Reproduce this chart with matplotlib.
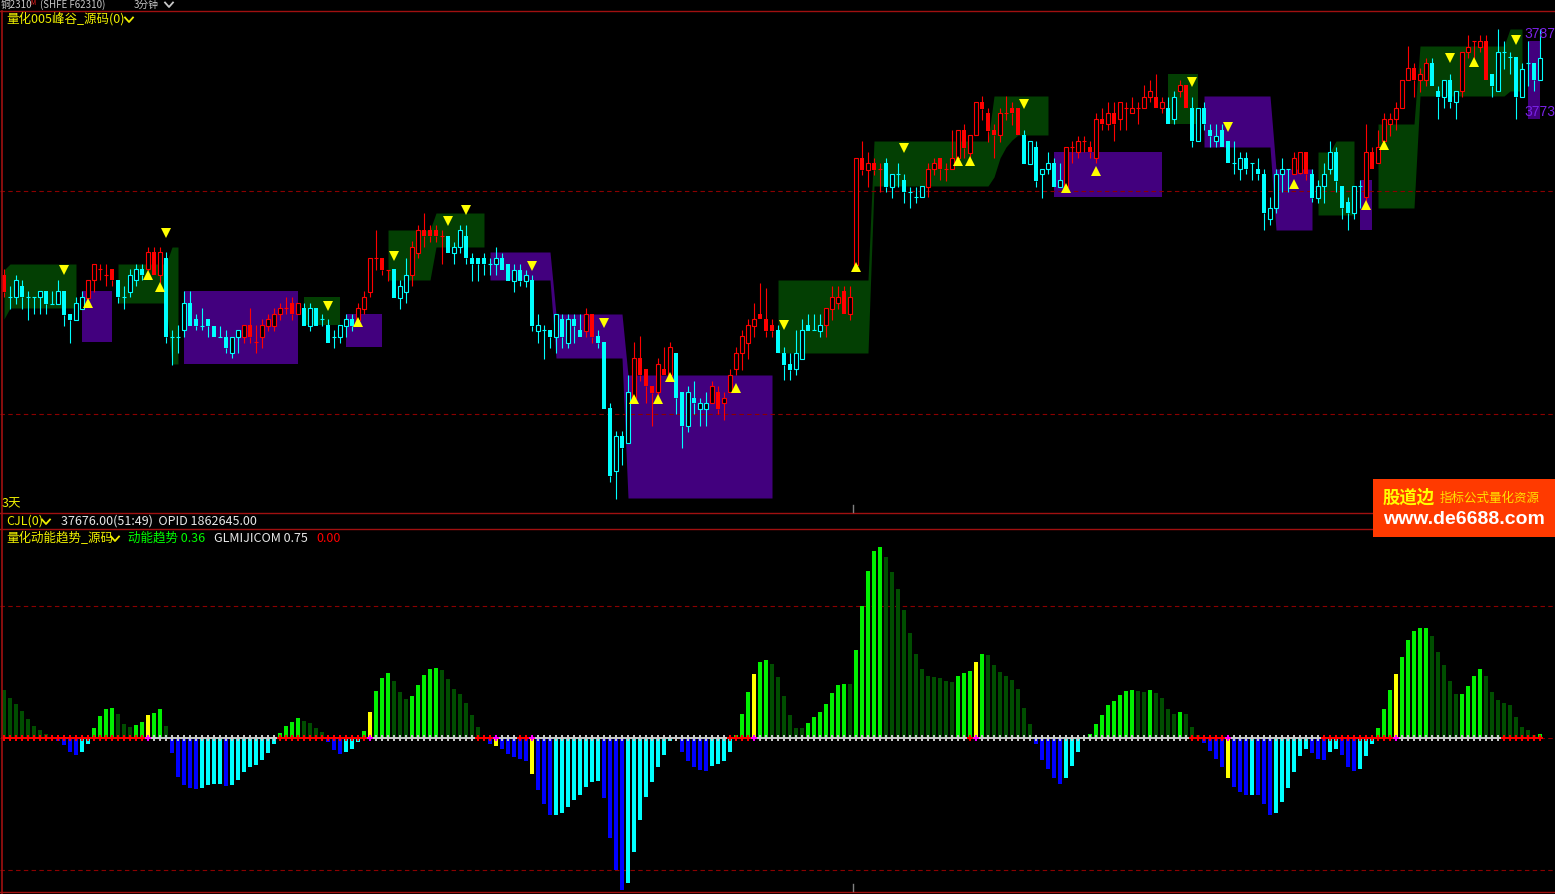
import numpy as np
import matplotlib.pyplot as plt
from matplotlib.patches import Rectangle

plt.rcParams['font.family'] = ['Noto Sans CJK SC', 'DejaVu Sans']

# K线数据 (相对价格刻度)
open_ = [725, 703, 703, 714, 703, 703, 703, 709, 696, 696,
         709, 686, 680, 691, 702, 720, 731, 725, 731, 720,
         703, 708, 720, 731, 731, 748, 725, 742, 663, 663,
         670, 697, 681, 674, 681, 674, 663, 663, 647, 663,
         663, 675, 658, 663, 674, 674, 686, 692, 697, 686,
         692, 674, 692, 681, 675, 663, 663, 674, 681, 680,
         691, 708, 742, 742, 730, 731, 702, 708, 725, 747,
         770, 770, 770, 764, 764, 747, 753, 764, 742, 742,
         742, 736, 736, 742, 736, 719, 730, 719, 720, 669,
         670, 670, 663, 681, 657, 681, 670, 669, 686, 664,
         658, 592, 529, 564, 557, 602, 642, 631, 614, 608,
         631, 625, 647, 608, 574, 602, 591, 591, 597, 608,
         597, 608, 631, 647, 657, 674, 686, 681, 675, 670,
         647, 636, 631, 641, 675, 670, 669, 675, 691, 697,
         709, 686, 735, 842, 830, 837, 831, 837, 813, 826,
         820, 808, 803, 803, 813, 831, 842, 831, 831, 842,
         870, 847, 865, 898, 887, 870, 865, 887, 892, 892,
         865, 836, 853, 826, 831, 837, 813, 813, 853, 848,
         859, 853, 842, 881, 876, 887, 881, 892, 887, 892,
         892, 903, 903, 892, 892, 881, 909, 915, 892, 859,
         892, 870, 859, 870, 859, 837, 831, 842, 837, 831,
         826, 781, 792, 826, 831, 826, 827, 848, 826, 802,
         814, 831, 848, 814, 798, 787, 814, 803, 848, 837,
         859, 876, 881, 892, 920, 932, 920, 920, 937, 909,
         903, 920, 898, 909, 948, 959, 953, 959, 926, 909,
         948, 943, 943, 903, 937, 937, 920]
high = [731, 714, 725, 720, 709, 703, 709, 709, 709, 720,
        709, 686, 703, 709, 720, 736, 736, 736, 731, 720,
        714, 731, 736, 736, 753, 753, 753, 748, 670, 675,
        709, 709, 686, 692, 681, 674, 674, 670, 663, 670,
        675, 692, 675, 681, 686, 692, 697, 703, 703, 697,
        697, 697, 692, 686, 681, 670, 675, 686, 686, 697,
        709, 742, 770, 742, 730, 731, 720, 742, 759, 775,
        787, 775, 775, 770, 764, 758, 775, 775, 747, 742,
        747, 742, 753, 747, 736, 736, 736, 730, 725, 686,
        675, 670, 686, 686, 686, 686, 686, 692, 686, 670,
        658, 597, 569, 569, 625, 658, 664, 631, 614, 642,
        653, 658, 647, 608, 614, 619, 602, 608, 619, 614,
        608, 631, 653, 670, 681, 697, 717, 712, 681, 675,
        653, 647, 670, 681, 686, 686, 686, 692, 714, 714,
        714, 714, 842, 859, 848, 842, 837, 842, 826, 837,
        826, 813, 813, 814, 837, 842, 842, 837, 870, 870,
        876, 865, 898, 904, 892, 876, 892, 904, 898, 892,
        870, 859, 859, 831, 848, 842, 837, 853, 859, 864,
        864, 859, 887, 892, 898, 898, 898, 898, 903, 898,
        915, 920, 926, 903, 903, 909, 920, 915, 903, 892,
        898, 876, 876, 876, 859, 859, 848, 848, 837, 842,
        831, 803, 831, 842, 831, 848, 848, 848, 831, 820,
        837, 859, 853, 814, 803, 814, 820, 876, 853, 870,
        887, 887, 898, 920, 954, 937, 932, 942, 942, 914,
        920, 926, 909, 948, 965, 959, 965, 965, 926, 971,
        959, 948, 943, 937, 959, 937, 971]
low = [703, 691, 696, 691, 680, 686, 686, 686, 696, 696,
       674, 657, 680, 691, 702, 708, 720, 714, 714, 697,
       691, 703, 714, 720, 725, 725, 717, 657, 635, 647,
       663, 674, 670, 670, 663, 663, 663, 647, 642, 647,
       657, 657, 647, 652, 669, 669, 680, 686, 680, 686,
       674, 669, 674, 674, 657, 652, 657, 663, 669, 674,
       686, 703, 730, 725, 719, 702, 691, 697, 714, 742,
       753, 758, 758, 736, 747, 736, 747, 736, 719, 719,
       725, 725, 725, 730, 719, 708, 714, 713, 669, 657,
       641, 652, 647, 652, 652, 657, 663, 663, 657, 652,
       591, 518, 501, 535, 557, 602, 619, 597, 574, 602,
       625, 625, 586, 552, 568, 586, 574, 574, 597, 586,
       580, 608, 625, 630, 641, 663, 681, 663, 663, 647,
       620, 620, 625, 641, 669, 670, 663, 663, 680, 691,
       686, 680, 735, 825, 813, 825, 808, 808, 802, 813,
       797, 792, 797, 803, 803, 825, 820, 819, 831, 842,
       842, 842, 865, 880, 858, 842, 858, 880, 875, 865,
       836, 836, 813, 802, 826, 813, 813, 808, 837, 842,
       848, 842, 837, 870, 870, 859, 870, 870, 887, 876,
       892, 898, 892, 887, 876, 876, 903, 892, 853, 859,
       870, 853, 853, 853, 837, 826, 820, 826, 820, 820,
       770, 775, 787, 808, 808, 826, 826, 820, 798, 797,
       797, 826, 808, 781, 770, 781, 792, 798, 831, 837,
       853, 864, 870, 892, 920, 903, 908, 914, 914, 881,
       892, 892, 881, 903, 942, 937, 948, 920, 903, 909,
       931, 926, 881, 903, 914, 909, 920]
close = [708, 703, 720, 703, 703, 703, 709, 696, 696, 709,
         685, 680, 697, 703, 720, 736, 731, 725, 720, 703,
         703, 725, 731, 725, 748, 725, 748, 663, 663, 663,
         697, 674, 674, 674, 674, 663, 663, 652, 663, 670,
         675, 663, 658, 675, 681, 686, 692, 692, 686, 697,
         674, 692, 674, 681, 657, 663, 675, 681, 674, 692,
         703, 742, 742, 730, 730, 702, 714, 725, 753, 770,
         764, 764, 764, 764, 747, 753, 770, 742, 736, 736,
         736, 736, 742, 730, 719, 730, 719, 725, 674, 675,
         670, 663, 686, 663, 681, 674, 663, 686, 663, 657,
         591, 524, 564, 552, 608, 642, 625, 614, 607, 636,
         625, 653, 602, 574, 608, 597, 597, 597, 614, 591,
         602, 625, 647, 664, 675, 681, 681, 669, 669, 647,
         635, 630, 647, 670, 669, 670, 675, 692, 703, 703,
         686, 703, 842, 830, 837, 830, 831, 813, 826, 826,
         808, 808, 803, 814, 831, 837, 831, 831, 842, 870,
         852, 865, 898, 891, 869, 865, 887, 887, 887, 865,
         836, 859, 819, 831, 837, 813, 820, 853, 853, 859,
         859, 848, 881, 876, 887, 876, 898, 892, 892, 892,
         903, 909, 892, 898, 876, 903, 915, 892, 859, 892,
         876, 864, 864, 853, 837, 837, 842, 831, 837, 826,
         787, 792, 826, 831, 831, 842, 848, 826, 802, 814,
         826, 848, 819, 792, 787, 814, 814, 848, 831, 853,
         881, 881, 892, 920, 932, 920, 926, 937, 914, 903,
         920, 898, 909, 948, 953, 959, 959, 920, 914, 948,
         948, 943, 903, 931, 937, 920, 942]

# 趋势颜色 (r=红, c=青), 游程编码
trend_runs = [('r', 1), ('c', 13), ('r', 5), ('c', 5), ('r', 3), ('c', 13), ('r', 10),
              ('c', 9), ('r', 6), ('c', 3), ('r', 6), ('c', 23), ('r', 2), ('c', 6),
              ('r', 7), ('c', 6), ('r', 11), ('c', 8), ('r', 10), ('c', 7), ('r', 16),
              ('c', 7), ('r', 17), ('c', 2), ('r', 2), ('c', 17), ('r', 3), ('c', 9),
              ('r', 11), ('c', 5), ('r', 5), ('c', 9)]

# 峰谷区域: (起始K线, 结束K线, 上沿, 下沿, 颜色)
zones = [(0, 0, 730, 681, 'g'), (1, 12, 736, 692, 'g'), (13, 18, 709, 658, 'p'),
         (19, 27, 736, 697, 'g'), (28, 29, 753, 636, 'g'), (30, 49, 709, 636, 'p'),
         (50, 56, 703, 675, 'g'), (57, 63, 686, 653, 'p'), (64, 71, 770, 720, 'g'),
         (72, 80, 787, 753, 'g'), (81, 91, 748, 720, 'p'), (92, 103, 686, 642, 'p'),
         (104, 128, 625, 502, 'p'), (129, 144, 720, 647, 'g'), (145, 164, 859, 814, 'g'),
         (165, 165, 904, 823, 'g'), (166, 166, 904, 842, 'g'), (167, 167, 904, 853, 'g'),
         (168, 168, 904, 860, 'g'), (169, 174, 904, 865, 'g'), (175, 193, 848, 803, 'p'),
         (194, 199, 926, 876, 'g'), (200, 211, 904, 853, 'p'), (212, 218, 831, 770, 'p'),
         (219, 221, 848, 785, 'g'), (222, 225, 859, 785, 'g'), (226, 228, 820, 770, 'p'),
         (229, 235, 876, 792, 'g'), (236, 250, 954, 904, 'g'), (251, 253, 971, 909, 'g'),
         (254, 256, 959, 881, 'p')]

# 信号三角
tri_dn_bar = [10, 27, 54, 65, 74, 77, 88, 100, 130, 150, 170, 198, 204, 241, 252]
tri_dn_val = [730, 767, 694, 744, 779, 790, 734, 677, 675, 852, 896, 918, 873, 942, 960]
tri_up_bar = [14, 24, 26, 59, 105, 109, 111, 122, 142, 159, 161, 177, 182, 215, 227, 230, 245]
tri_up_val = [697, 725, 713, 678, 601, 601, 623, 612, 733, 839, 839, 812, 829, 816, 795, 855, 938]

# 动能趋势柱
hist_vals = [36.6, 30.5, 26, 20.6, 14.5, 9.2, 6.1, 3, -0.5, -2.3,
             -5.3, -10.7, -13, -10.7, -4.6, 7.6, 16.8, 22, 23, 18.3,
             10.7, 8.4, 9.9, 12.2, 17.6, 19, 22, 9.2, -11.5, -29.8,
             -35.9, -38.2, -38.9, -38.2, -35.9, -35.1, -35.1, -36.6, -35.9, -32,
             -26, -22.1, -20.6, -16.8, -11.5, -4.6, 3.8, 9.2, 12.2, 15.3,
             13, 11.5, 7.6, 4.6, -3, -9.2, -12.2, -10.7, -8.4, -3,
             5.3, 19.8, 35.9, 45.8, 49.6, 43.5, 35.1, 29.8, 32, 40.5,
             48.1, 52.7, 53.4, 51.9, 45, 37.4, 33.6, 26.7, 17.6, 8.4,
             0.5, -4.6, -6.1, -8.4, -12.2, -14.5, -16, -17.6, -27.5, -39.7,
             -50.4, -58.8, -58.8, -57.3, -52.7, -47.3, -43.5, -37.4, -33.6, -32.8,
             -45.8, -76.3, -100, -115.3, -109.9, -87, -62.6, -45, -33.6, -22.1,
             -13, -2.3, -0.3, -10.7, -17.6, -22.1, -24.4, -25.2, -21.4, -19.8,
             -17.6, -10.7, 2.3, 18.3, 35.1, 48.9, 58, 59.5, 56.5, 46.6,
             32, 17.6, 7.6, 7.6, 11.5, 16, 19.8, 26, 34.4, 40.5,
             41.2, 41.2, 67.2, 100, 126.7, 142, 145, 137.4, 126, 113,
             97, 80.2, 64.1, 52.7, 47.3, 46.6, 45.8, 43.5, 42.7, 47.3,
             49.6, 51.1, 58, 64.1, 63.4, 55.7, 50.4, 47.3, 44.3, 37.4,
             22.9, 10.7, -4.6, -16.8, -23.7, -30.5, -35.1, -30.5, -21.4, -10.7,
             -0.8, 3, 10.7, 17.6, 25.2, 28.2, 32.8, 35.9, 36.6, 35.9,
             35.1, 36.6, 34.4, 30.5, 22.1, 18.3, 19.8, 18.3, 8.4, 2.3,
             -3.8, -9.9, -16, -22.1, -30.5, -37.4, -41.2, -43.5, -43.5, -43.5,
             -50.4, -58.8, -57.3, -48.9, -38.2, -26, -13.7, -8.4, -11.5, -16,
             -16.8, -10.7, -8.4, -13, -22.1, -25.2, -23.7, -13.7, -4.6, 7.6,
             22.1, 36.6, 48.9, 61.8, 74.8, 81.7, 84, 84, 77.9, 65.6,
             55.7, 43.5, 33.6, 33.6, 39.7, 47.3, 52.7, 47.3, 35.1, 29,
             26.7, 25.2, 16, 8.4, 6.1, 2.3, 3]
hist_codes = ''.join(["DDDDDDDDBB", "BBBCCGGGGD", "DDGGYGGDBB", "BBBCCCCBCC", "CCCCCCGGGG",
                      "DDDDBBBCCC", "GYGGGDDDGG", "GGGDDDDDDD", "DBYBBBBBYB", "BBCCCCCCCC",
                      "BBBBCCCCCC", "CCCBBBBBCC", "CCGGGYGGDD", "DDDDGGGGGG", "GDGGGGGDDD",
                      "DDDDDDDDDG", "GGYGDDDDDD", "DDBBBBBCCC", "CGGGGGGGGD", "DGDDDDGDDD",
                      "BBBBYBBBCB", "BBCCCCCCBB", "BCCBBBCCCG", "GGYGGGGGDD", "DDDGGGGDDD",
                      "DDDDDDG"])
dot_runs = [('r', 24), ('m', 1), ('g', 21), ('r', 15), ('m', 1), ('g', 17), ('r', 3),
            ('m', 1), ('g', 3), ('r', 2), ('m', 1), ('g', 32), ('r', 4), ('m', 1),
            ('g', 35), ('r', 1), ('m', 1), ('g', 35), ('r', 6), ('m', 1), ('g', 15),
            ('r', 12), ('m', 1), ('g', 17), ('r', 7)]

W, H = 1555, 894
n = len(close)
x = np.arange(n)
o = np.array(open_, float)
c = np.array(close, float)
hi = np.array(high, float)
lo = np.array(low, float)

fig = plt.figure(figsize=(W / 100, H / 100), dpi=100, facecolor='black')
xlim = (-4 / 6, (W - 4) / 6)

# ---- 主图 ----
ax1 = fig.add_axes([0, (H - 512) / H, 1, 500 / H])
ax1.set_facecolor('black')
ax1.set_xlim(*xlim)
ax1.set_ylim(488, 988)
ax1.axis('off')

zone_top = np.full(n, np.nan)
zone_bot = np.full(n, np.nan)
zone_col = [''] * n
for a, b, t, btm, col in zones:
    zone_top[a:b + 1] = t
    zone_bot[a:b + 1] = btm
    for k in range(a, b + 1):
        zone_col[k] = col
zcolors = {'g': '#033f03', 'p': '#42007e'}
i = 0
while i < n:
    if zone_col[i] == '':
        i += 1
        continue
    j = i
    while j + 1 < n and zone_col[j + 1] == zone_col[i]:
        j += 1
    xs = x[i:j + 1]
    if len(xs) == 1:
        xs = np.array([x[i] - 0.1, x[i] + 0.1])
        tt = [zone_top[i]] * 2
        bb = [zone_bot[i]] * 2
    else:
        tt = zone_top[i:j + 1]
        bb = zone_bot[i:j + 1]
    ax1.fill_between(xs, bb, tt, color=zcolors[zone_col[i]], lw=0, zorder=1)
    i = j + 1

for yv in (809, 586):
    ax1.axhline(yv, color='#8b0000', lw=0.8, ls=(0, (4, 3)), zorder=1.5)

trend = ''.join(t * k for t, k in trend_runs)
cols = np.array(['#ff0000' if t == 'r' else '#00ffff' for t in trend])
body_lo = np.minimum(o, c)
body_hi = np.maximum(o, c)
ax1.vlines(x, lo, body_lo, colors=cols, lw=0.8, zorder=3)
ax1.vlines(x, body_hi, hi, colors=cols, lw=0.8, zorder=3)
down = c < o
up = c > o
flat = c == o
ax1.bar(x[down], (o - c)[down], bottom=c[down], width=0.8, color=cols[down], lw=0, zorder=4)
ax1.bar(x[up], (c - o)[up], bottom=o[up], width=0.68, facecolor='black',
        edgecolor=cols[up], lw=0.8, zorder=4)
ax1.hlines(o[flat], x[flat] - 0.4, x[flat] + 0.4, colors=cols[flat], lw=0.8, zorder=4)

ax1.plot(tri_dn_bar, tri_dn_val, 'v', color='#ffff00', ms=6.5, mew=0, zorder=5)
ax1.plot(tri_up_bar, tri_up_val, '^', color='#ffff00', ms=6.5, mew=0, zorder=5)

# ---- 副图 ----
ax2 = fig.add_axes([0, 2 / H, 1, 363 / H])
ax2.set_facecolor('black')
ax2.set_xlim(*xlim)
ax2.set_ylim(-117.1, 158.9)
ax2.axis('off')
hmap = {'G': '#00f000', 'D': '#004d00', 'B': '#0000ff', 'C': '#00ffff', 'Y': '#ffff00'}
ax2.bar(x, hist_vals, width=0.82, color=[hmap[k] for k in hist_codes], lw=0, zorder=2)
for yv in (100, -100, 0):
    ax2.axhline(yv, color='#8b0000', lw=0.8, ls=(0, (4, 3)), zorder=1)
dots = ''.join(t * k for t, k in dot_runs)
dmap = {'r': '#ff0000', 'g': '#c8c8c8', 'm': '#ff00ff'}
ax2.scatter(x, np.zeros(n), marker='P', s=14, c=[dmap[k] for k in dots], lw=0, zorder=3)

# ---- 边框与文字 ----
ov = fig.add_axes([0, 0, 1, 1])
ov.set_xlim(0, W)
ov.set_ylim(H, 0)
ov.axis('off')
ov.patch.set_alpha(0)
line_c = '#a01010'
for yy in (11, 512.5, 528.5, 892):
    ov.plot([0, W], [yy, yy], color=line_c, lw=1, zorder=2)
ov.plot([1.5, 1.5], [11, H], color=line_c, lw=1.2, zorder=2)
for y0, y1 in ((505, 512), (884, 891)):
    ov.plot([853, 853], [y0, y1], color='#808080', lw=1, zorder=2)


def chevron(x0, y0, color):
    ov.plot([x0, x0 + 4, x0 + 8], [y0 - 2.5, y0 + 2, y0 - 2.5], color=color, lw=1.3, zorder=3)


yellow = '#f0f000'
fs = 9
gray = '#c8c8c8'
ov.text(1, 5, '铜2310', color=gray, fontsize=7, va='center', ha='left')
ov.text(30, 3, 'M', color='#ff2020', fontsize=4.5, va='center', ha='left')
ov.text(40, 5, '(SHFE F62310)', color=gray, fontsize=7, va='center', ha='left')
ov.text(134, 5, '3分钟', color=gray, fontsize=7, va='center', ha='left')
chevron(165, 5, gray)

ov.text(6, 19, '量化005峰谷_源码(0)', color=yellow, fontsize=fs, va='center', ha='left')
chevron(125, 20, yellow)

ov.text(1555, 34, '3787', color='#7b22e8', fontsize=10, va='center', ha='right',
        family='Liberation Sans')
ov.text(1555, 112, '3773', color='#7b22e8', fontsize=10, va='center', ha='right',
        family='Liberation Sans')

ov.text(2, 504, '3天', color=yellow, fontsize=fs, va='center', ha='left')
ov.text(6, 521, 'CJL(0)', color=yellow, fontsize=fs, va='center', ha='left')
chevron(42, 522, yellow)
ov.text(61, 521, '37676.00(51:49)  OPID 1862645.00', color='#e8e8e8', fontsize=fs,
        va='center', ha='left')

ov.text(6, 538, '量化动能趋势_源码', color=yellow, fontsize=fs, va='center', ha='left')
chevron(111, 539, yellow)
ov.text(128, 538, '动能趋势 0.36', color='#00ff00', fontsize=fs, va='center', ha='left')
ov.text(214, 538, 'GLMIJICOM 0.75', color='#e8e8e8', fontsize=fs, va='center', ha='left')
ov.text(316, 538, '0.00', color='#ff0000', fontsize=fs, va='center', ha='left')

# 水印
ov.add_patch(Rectangle((1373, 479), 182, 58, facecolor='#ff3a00', edgecolor='none', zorder=5))
ov.text(1383, 498, '股道边', color='#ffff00', fontsize=12.5, fontweight='bold',
        va='center', ha='left', zorder=6)
ov.text(1440, 498, '指标公式量化资源', color='#ffe000', fontsize=9, va='center', ha='left',
        zorder=6)
ov.text(1383, 519, 'www.de6688.com', color='white', fontsize=14, fontweight='bold',
        va='center', ha='left', family='Liberation Sans', zorder=6)

fig.savefig('out.png', dpi=100, facecolor='black')
